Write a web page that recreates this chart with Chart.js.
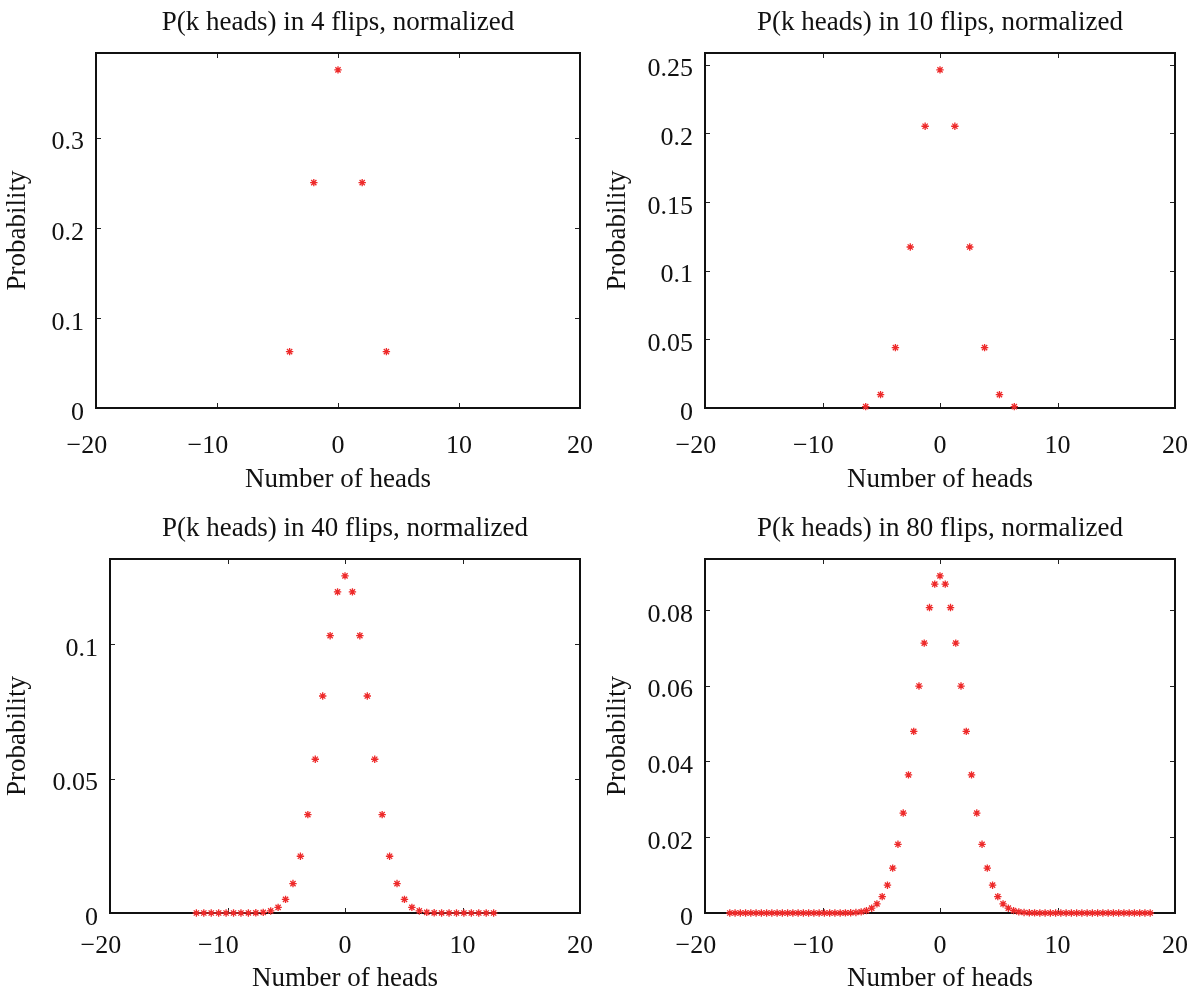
<!DOCTYPE html>
<html><head><meta charset="utf-8">
<script src="https://cdn.jsdelivr.net/npm/chart.js@4.4.1/dist/chart.umd.min.js"></script>
<style>
html,body{margin:0;padding:0;background:#fff;overflow:hidden;width:1193px;height:988px}
canvas{position:absolute}
</style></head><body>
<canvas id="c1" width="600" height="494" style="left:0;top:0"></canvas>
<canvas id="c2" width="593" height="494" style="left:600px;top:0"></canvas>
<canvas id="c3" width="600" height="494" style="left:0;top:494px"></canvas>
<canvas id="c4" width="593" height="494" style="left:600px;top:494px"></canvas>
<script>
// ---- data ----
const titles = ["P(k heads) in 4 flips, normalized","P(k heads) in 10 flips, normalized","P(k heads) in 40 flips, normalized","P(k heads) in 80 flips, normalized"];
const xLabel = "Number of heads";
const yLabel = "Probability";
const xTickStep = 10;
const yTickSteps = [0.1, 0.05, 0.05, 0.02];

const x4 = [-4, -2, 0, 2, 4];
const y4 = [0.0625, 0.25, 0.375, 0.25, 0.0625];

const x10 = [-6.3246, -5.0596, -3.7947, -2.5298, -1.2649, 0, 1.2649, 2.5298, 3.7947, 5.0596, 6.3246];
const y10 = [0.000977, 0.009766, 0.043945, 0.117188, 0.205078, 0.246094, 0.205078, 0.117188, 0.043945, 0.009766, 0.000977];

const x40 = [-12.6491,-12.0167,-11.3842,-10.7517,-10.1193,-9.4868,-8.8544,-8.2219,-7.5895,-6.9570,-6.3246,-5.6921,-5.0596,-4.4272,-3.7947,-3.1623,-2.5298,-1.8974,-1.2649,-0.6325,0,
  0.6325,1.2649,1.8974,2.5298,3.1623,3.7947,4.4272,5.0596,5.6921,6.3246,6.9570,7.5895,8.2219,8.8544,9.4868,10.1193,10.7517,11.3842,12.0167,12.6491];
const y40 = [0,0,0,0.00000001,0.0000001,0.0000006,0.0000035,0.000017,0.0000699,0.0002487,0.0007709,0.0021026,0.0050812,0.0109443,0.0211065,0.0365853,0.0571646,0.080703,0.1031205,0.1194005,0.1253707,
  0.1194005,0.1031205,0.080703,0.0571646,0.0365853,0.0211065,0.0109443,0.0050812,0.0021026,0.0007709,0.0002487,0.0000699,0.000017,0.0000035,0.0000006,0.0000001,0.00000001,0,0,0];

const x80 = [-17.8885,-17.4413,-16.9941,-16.5469,-16.0997,-15.6525,-15.2053,-14.7580,-14.3108,-13.8636,-13.4164,-12.9692,-12.5220,-12.0748,-11.6276,-11.1803,-10.7331,-10.2859,-9.8387,-9.3915,
  -8.9443,-8.4971,-8.0498,-7.6026,-7.1554,-6.7082,-6.2610,-5.8138,-5.3666,-4.9193,-4.4721,-4.0249,-3.5777,-3.1305,-2.6833,-2.2361,-1.7889,-1.3416,-0.8944,-0.4472,0,
  0.4472,0.8944,1.3416,1.7889,2.2361,2.6833,3.1305,3.5777,4.0249,4.4721,4.9193,5.3666,5.8138,6.2610,6.7082,7.1554,7.6026,8.0498,8.4971,8.9443,
  9.3915,9.8387,10.2859,10.7331,11.1803,11.6276,12.0748,12.5220,12.9692,13.4164,13.8636,14.3108,14.7580,15.2053,15.6525,16.0997,16.5469,16.9941,17.4413,17.8885];
const y80 = [0,0,0,0,0,0,0,0,0,0,0,0,0,0,0,0,0,0,0.0000003,0.00000096,
  0.0000029,0.0000084,0.0000224,0.0000565,0.0001342,0.0003006,0.0006359,0.0012718,0.0024074,0.0043167,0.0073383,0.011836,0.018124,0.026362,0.036442,0.047894,0.059868,0.071194,0.080562,0.086759,0.088928,
  0.086759,0.080562,0.071194,0.059868,0.047894,0.036442,0.026362,0.018124,0.011836,0.0073383,0.0043167,0.0024074,0.0012718,0.0006359,0.0003006,0.0001342,0.0000565,0.0000224,0.0000084,0.0000029,
  0.00000096,0.0000003,0,0,0,0,0,0,0,0,0,0,0,0,0,0,0,0,0,0];

// ---- layout ----
const FONT = "'Liberation Serif','Times New Roman',serif";
const panels = [
  {id:'c1', w:600, h:494, plot:{l:96, t:53, r:580, b:408}, xs:x4,  ys:y4,  xpad:23, xtp:-1.8},
  {id:'c2', w:593, h:494, plot:{l:105,t:53, r:575, b:408}, xs:x10, ys:y10, xpad:23, xtp:-1.8},
  {id:'c3', w:600, h:494, plot:{l:110,t:65, r:580, b:419}, xs:x40, ys:y40, xpad:17.5, xtp:-7},
  {id:'c4', w:593, h:494, plot:{l:105,t:65, r:575, b:419}, xs:x80, ys:y80, xpad:17.5, xtp:-7}
];

function fmt(v){
  let s = String(Math.round(v*1e6)/1e6);
  if (v < 0) s = '\u2212' + s.slice(1) + '\u2002\u2009';
  return s;
}

const boxPlugin = {
  id:'box',
  beforeDatasetsDraw(chart){
    const {ctx, chartArea:{left,top,right,bottom}, scales:{x,y}} = chart;
    ctx.save();
    ctx.strokeStyle = '#222'; ctx.lineWidth = 1;
    const L = 5;
    ctx.beginPath();
    x.ticks.forEach(t=>{
      const px = Math.round(x.getPixelForValue(t.value)) + 0.5;
      if (px <= left+2 || px >= right-2) return;
      ctx.moveTo(px, bottom); ctx.lineTo(px, bottom-L);
      ctx.moveTo(px, top); ctx.lineTo(px, top+L);
    });
    y.ticks.forEach(t=>{
      const py = Math.round(y.getPixelForValue(t.value)) + 0.5;
      if (py <= top+2 || py >= bottom-2) return;
      ctx.moveTo(left, py); ctx.lineTo(left+L, py);
      ctx.moveTo(right, py); ctx.lineTo(right-L, py);
    });
    ctx.stroke();
    ctx.lineWidth = 2; ctx.strokeStyle = '#111';
    ctx.strokeRect(left, top, right-left, bottom-top);
    ctx.restore();
  }
};

panels.forEach((p, i) => {
  const ymax = Math.max(...p.ys) * 1.05;
  const font = {family: FONT, size: 27, weight: 'normal'};
  const tfont = {family: FONT, size: 26, weight: 'normal'};
  new Chart(document.getElementById(p.id), {
    type: 'scatter',
    data: {datasets: [{
      data: p.xs.map((x, k) => ({x: x, y: p.ys[k]})),
      pointStyle: 'star', pointRadius: 3.7, pointHoverRadius: 3.7,
      borderColor: '#ee2a2a', backgroundColor: '#ee2a2a', pointBorderWidth: 1.3,
      showLine: false, clip: false
    }]},
    options: {
      responsive: false, animation: false, devicePixelRatio: 1, events: [],
      layout: {padding: {left: 0, right: p.w - p.plot.r, top: 0, bottom: 0}},
      plugins: {
        legend: {display: false}, tooltip: {enabled: false},
        title: {display: true, text: titles[i], fullSize: false, color: '#111', font: font,
                padding: {top: p.plot.t - 32.4 - 13.4, bottom: 13.4}}
      },
      scales: {
        x: {type: 'linear', min: -20, max: 20,
            grid: {display: false, drawTicks: false}, border: {display: false},
            ticks: {stepSize: xTickStep, autoSkip: false, maxRotation: 0, padding: p.xpad, color: '#111', font: tfont, callback: v => fmt(v)},
            title: {display: true, text: xLabel, color: '#111', font: font, padding: {top: 0, bottom: p.xtp}},
            afterFit: s => { s.height = p.h - p.plot.b; s.paddingLeft = 0; s.paddingRight = 0; }},
        y: {type: 'linear', min: 0, max: ymax,
            grid: {display: false, drawTicks: false}, border: {display: false},
            ticks: {stepSize: yTickSteps[i], includeBounds: false, autoSkip: false, padding: 12, labelOffset: 5, color: '#111', font: tfont, callback: v => fmt(v)},
            title: {display: true, text: yLabel, color: '#111', font: font, padding: {top: 2, bottom: 0}},
            afterFit: s => { s.width = p.plot.l; s.paddingTop = 0; s.paddingBottom = 0; }}
      }
    },
    plugins: [boxPlugin]
  });
});
</script>
</body></html>
